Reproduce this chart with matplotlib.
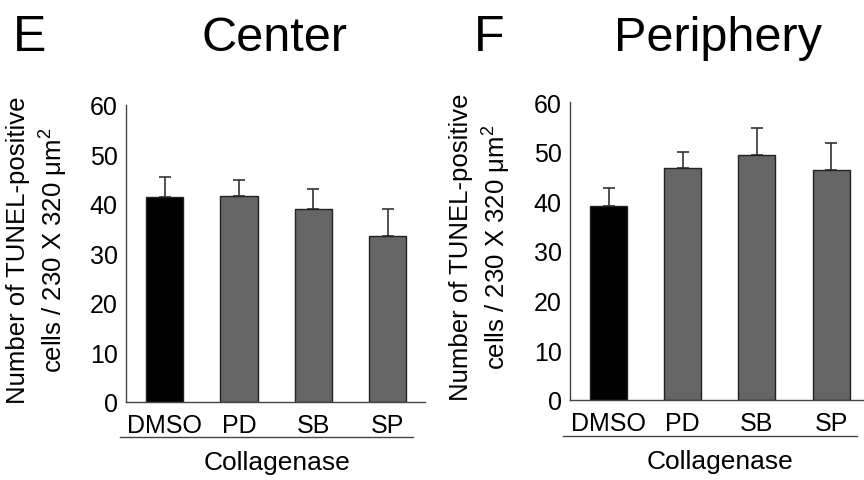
import matplotlib
matplotlib.use("Agg")
import matplotlib.pyplot as plt

# data
groups = ["DMSO", "PD", "SB", "SP"]
center_vals = [41.4, 41.6, 38.9, 33.4]
center_err = [4.0, 3.1, 4.0, 5.5]
periph_vals = [39.1, 46.7, 49.4, 46.4]
periph_err = [3.6, 3.3, 5.4, 5.3]
yticks = [0, 10, 20, 30, 40, 50, 60]

bar_colors = ["#000000", "#656565", "#656565", "#656565"]
ylabel = "Number of TUNEL-positive\ncells / 230 X 320 $\\mathregular{\\mu m^2}$"

plt.rcParams["font.family"] = ["Liberation Sans", "DejaVu Sans"]
W, H = 864, 481
fig = plt.figure(figsize=(W / 100, H / 100), dpi=100)


def px(x0, y0, x1, y1):
    # pixel box -> figure fraction rect
    return [x0 / W, 1 - y1 / H, (x1 - x0) / W, (y1 - y0) / H]


def panel(rect, vals, err, xmax):
    ax = fig.add_axes(rect)
    x = range(len(groups))
    ax.bar(x, vals, width=0.5, color=bar_colors, edgecolor="#222222", linewidth=1.0, zorder=2)
    ax.errorbar(x, vals, yerr=[[0] * len(err), err], fmt="none", ecolor="#333333",
                elinewidth=1.2, capsize=4, capthick=1.2, zorder=1)
    ax.set_xlim(-0.52, xmax)
    ax.set_ylim(0, 60)
    ax.set_yticks(yticks)
    ax.set_xticks(list(x))
    ax.set_xticklabels(groups)
    ax.tick_params(axis="both", length=0, labelsize=18)
    ax.tick_params(axis="y", pad=6)
    ax.tick_params(axis="x", pad=8)
    for s in ["top", "right"]:
        ax.spines[s].set_visible(False)
    for s in ["left", "bottom"]:
        ax.spines[s].set_color("#444444")
        ax.spines[s].set_linewidth(1.0)
    return ax


panel(px(126, 105.7, 425, 402.7), center_vals, center_err, 3.5)
panel(px(570, 103.3, 863, 400.7), periph_vals, periph_err, 3.43)

# panel letters and titles
fig.text(13 / W, 1 - 51 / H, "E", fontsize=36, va="baseline")
fig.text(274 / W, 1 - 51 / H, "Center", fontsize=35, ha="center", va="baseline")
fig.text(474 / W, 1 - 51 / H, "F", fontsize=36, va="baseline")
fig.text(718 / W, 1 - 51 / H, "Periphery", fontsize=35, ha="center", va="baseline")

# y labels
fig.text(38 / W, 1 - 250 / H, ylabel, rotation=90, fontsize=18.5, ha="center", va="center",
         multialignment="center", linespacing=1.35)
fig.text(481 / W, 1 - 247 / H, ylabel, rotation=90, fontsize=18.5, ha="center", va="center",
         multialignment="center", linespacing=1.35)

# Collagenase bracket lines
fig.add_artist(plt.Line2D([120 / W, 413 / W], [1 - 438 / H, 1 - 438 / H], color="#444444", lw=1.0))
fig.add_artist(plt.Line2D([563 / W, 857 / W], [1 - 437 / H, 1 - 437 / H], color="#444444", lw=1.0))
fig.text(277 / W, 1 - 463 / H, "Collagenase", fontsize=19, ha="center", va="center")
fig.text(720 / W, 1 - 462 / H, "Collagenase", fontsize=19, ha="center", va="center")

fig.savefig("out.png", dpi=100)
